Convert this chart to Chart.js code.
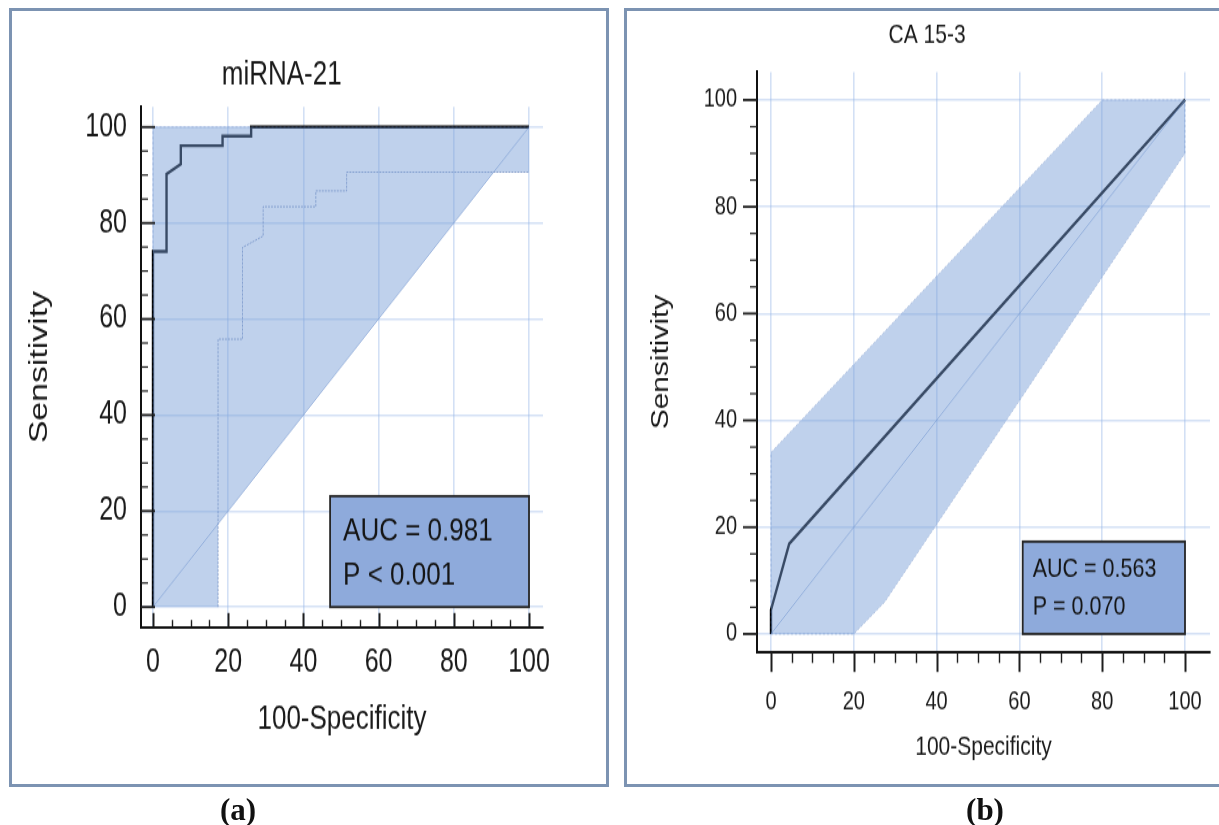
<!DOCTYPE html>
<html><head><meta charset="utf-8">
<script src="https://cdn.jsdelivr.net/npm/chart.js@4.4.1/dist/chart.umd.min.js"></script>
<style>
html,body{margin:0;padding:0;background:#fff;width:1219px;height:825px;overflow:hidden}
#wrap{position:relative;width:1219px;height:825px}
canvas{position:absolute;left:0;top:0}
.frame{position:absolute;border:3px solid #7c93b2;box-sizing:border-box}
.lab{position:absolute;top:792px;line-height:34px;font:bold 31px "Liberation Serif","Times New Roman",serif;color:#111;transform:translateX(-50%)}
</style></head><body>
<div id="wrap">
<div class="frame" style="left:9px;top:8px;width:600px;height:779px"></div>
<div class="frame" style="left:624px;top:8px;width:610px;height:779px"></div>
<canvas id="c1" width="1219" height="635" style="width:1219px;height:825px"></canvas>
<canvas id="c2" width="1219" height="635" style="width:1219px;height:825px"></canvas>
<div class="lab" style="left:238px">(a)</div>
<div class="lab" style="left:985px">(b)</div>
</div>
<script>
// ---------- data ----------
const xTickVals = [0, 20, 40, 60, 80, 100];
const yTickVals = [0, 20, 40, 60, 80, 100];

// miRNA-21 ROC curve
const mirFpr  = [0, 0, 3.6, 3.6, 7.4, 7.4, 18.5, 18.5, 26.1, 26.1, 100];
const mirSens = [0, 74.1, 74.1, 90.2, 92.3, 96.1, 96.1, 98.1, 98.1, 100, 100];
// miRNA-21 lower confidence curve
const mirLowFpr  = [17.3, 17.3, 23.8, 23.8, 29.3, 29.3, 43.3, 43.3, 51.5, 51.5, 100];
const mirLowSens = [0, 55.8, 55.8, 74.9, 77.3, 83.4, 83.4, 86.7, 86.7, 90.6, 90.6];
// miRNA-21 shaded band boundaries
const mirBandUpFpr  = [0, 0, 100];
const mirBandUpSens = [0, 100, 100];
const mirBandLoFpr  = [0, 17.3, 17.3, 90.6, 100, 100];
const mirBandLoSens = [0, 0, 17.3, 90.6, 90.6, 100];
const mirAUC = ['AUC = 0.981', 'P < 0.001'];

// CA 15-3 ROC curve
const caFpr  = [0, 0, 4.4, 100];
const caSens = [0, 4.5, 16.9, 100];
// CA 15-3 shaded band boundaries
const caBandUpFpr  = [0, 0, 80, 100];
const caBandUpSens = [0, 34, 100, 100];
const caBandLoFpr  = [0, 20, 27.5, 100, 100];
const caBandLoSens = [0, 0, 6, 90, 100];
const caAUC = ['AUC = 0.563', 'P = 0.070'];

// chance diagonal
const diagFpr = [0, 100];
const diagSens = [0, 100];

// ---------- helpers ----------
const SANS = '"Liberation Sans",Arial,sans-serif';
const BAND = 'rgba(118,158,214,0.47)';
const GRID = 'rgba(150,182,232,0.42)';
const pts = (xs, ys) => xs.map((v, i) => ({x: v, y: ys[i]}));
const polygon = (ux, uy, lx, ly) => pts(ux.concat(lx.slice().reverse()), uy.concat(ly.slice().reverse()));

const decor = {
  id: 'decor',
  afterDatasetsDraw(chart, args, o) {
    const {ctx, chartArea: ca, scales: {x, y}} = chart;
    ctx.save();
    ctx.strokeStyle = '#1e1e1e';
    for (let v = 0; v <= 100; v += 5) {
      const xm = xTickVals.includes(v), ym = yTickVals.includes(v);
      const xl = xm ? o.xMajorLen : o.xMinorLen;
      const yl = ym ? o.yMajorLen : o.yMinorLen;
      const px = Math.round(x.getPixelForValue(v)) + 0.5;
      ctx.lineWidth = xm ? 2 : 1.4;
      ctx.beginPath();
      ctx.moveTo(px, ca.bottom);
      ctx.lineTo(px, o.inward ? ca.bottom - xl : ca.bottom + xl);
      ctx.stroke();
      const py = y.getPixelForValue(v);
      ctx.lineWidth = ym ? 1.8 : 1.2;
      ctx.beginPath();
      ctx.moveTo(ca.left, py);
      ctx.lineTo(o.inward ? ca.left + yl : ca.left - yl, py);
      ctx.stroke();
    }
    // AUC box
    const bx0 = x.getPixelForValue(o.box[0]), bx1 = x.getPixelForValue(o.box[1]);
    const by0 = y.getPixelForValue(o.box[2]), by1 = y.getPixelForValue(o.box[3]);
    ctx.fillStyle = '#8eaadb';
    ctx.fillRect(bx0, by1, bx1 - bx0, by0 - by1);
    ctx.strokeStyle = '#262626';
    ctx.lineWidth = 1.8;
    ctx.strokeRect(bx0, by1, bx1 - bx0, by0 - by1);
    ctx.fillStyle = '#151515';
    ctx.font = o.font;
    ctx.textBaseline = 'middle';
    ctx.textAlign = 'left';
    o.lines.forEach((t, i) => {
      ctx.save();
      ctx.translate(bx0 + o.textX, by1 + o.textY[i]);
      ctx.scale(1, 0.9);
      ctx.fillText(t, 0, 0);
      ctx.restore();
    });
    ctx.restore();
  }
};

function zeroPad(s) { s.paddingLeft = 0; s.paddingRight = 0; s.paddingTop = 0; s.paddingBottom = 0; }

function makeChart(id, c) {
  const datasets = [
    {data: polygon(c.upX, c.upY, c.loX, c.loY), showLine: true, fill: 'shape', backgroundColor: BAND, borderWidth: 0, pointRadius: 0},
    {data: pts(diagFpr, diagSens), showLine: true, fill: false, borderColor: 'rgba(105,140,200,0.55)', borderWidth: 1, pointRadius: 0},
    {data: pts(c.upX, c.upY), showLine: true, fill: false, borderColor: 'rgba(80,110,170,0.3)', borderWidth: 1, borderDash: [2, 2], pointRadius: 0},
  ];
  if (c.lowX) datasets.push({data: pts(c.lowX, c.lowY), showLine: true, fill: false, borderColor: 'rgba(70,100,165,0.6)', borderWidth: 1, borderDash: [2, 1], pointRadius: 0});
  else datasets.push({data: pts(c.loX, c.loY), showLine: true, fill: false, borderColor: 'rgba(80,110,170,0.3)', borderWidth: 1, borderDash: [2, 2], pointRadius: 0});
  datasets.push({data: pts(c.rocX, c.rocY), showLine: true, fill: false, borderColor: '#000', borderWidth: 2.4, pointRadius: 0});

  return new Chart(document.getElementById(id), {
    type: 'scatter',
    data: {datasets},
    plugins: [decor],
    options: {
      responsive: false, animation: false, events: [],
      layout: {padding: c.pad},
      plugins: {
        legend: {display: false}, tooltip: {enabled: false},
        title: {display: true, text: c.title, color: '#1a1a1a', font: {family: SANS, size: c.titleSize, weight: 'normal'}, padding: c.titlePad},
        decor: c.decor
      },
      scales: {
        x: {
          type: 'linear', min: c.xr[0], max: c.xr[1],
          afterBuildTicks: s => { s.ticks = xTickVals.map(v => ({value: v})); },
          afterFit: s => { s.height = c.xH; zeroPad(s); },
          grid: {color: GRID, lineWidth: 1.6, drawTicks: false},
          border: {display: true, color: '#111', width: 2},
          ticks: {font: {family: SANS, size: c.tickSize}, color: '#1a1a1a', padding: c.xTickPad, maxRotation: 0, autoSkip: false},
          title: {display: true, text: '100-Specificity', color: '#1a1a1a', font: {family: SANS, size: c.xTitleSize}, padding: {top: 4, bottom: 4}}
        },
        y: {
          type: 'linear', min: c.yr[0], max: c.yr[1],
          afterBuildTicks: s => { s.ticks = yTickVals.map(v => ({value: v})); },
          afterFit: s => { s.width = c.yW; zeroPad(s); },
          grid: {color: GRID, lineWidth: 1.6, drawTicks: false},
          border: {display: true, color: '#111', width: 2},
          ticks: {font: {family: SANS, size: c.tickSize}, color: '#1a1a1a', padding: c.yTickPad, autoSkip: false},
          title: {display: true, text: 'Sensitivity', color: '#1a1a1a', font: {family: SANS, size: c.yTitleSize}, padding: {top: 4, bottom: 4}}
        }
      }
    }
  });
}

makeChart('c1', {
  title: 'miRNA-21', titleSize: 26, titlePad: {top: 12.1, bottom: 9.06},
  pad: {left: 20.4, right: 676, top: 30, bottom: 61.2},
  xr: [-3.19, 103.72], yr: [-4.17, 104.17], xH: 91.2, yW: 120.6,
  tickSize: 25, xTickPad: 12.7, yTickPad: 14, xTitleSize: 26, yTitleSize: 26,
  upX: mirBandUpFpr, upY: mirBandUpSens, loX: mirBandLoFpr, loY: mirBandLoSens,
  lowX: mirLowFpr, lowY: mirLowSens, rocX: mirFpr, rocY: mirSens,
  decor: {inward: true, xMajorLen: 10.8, xMinorLen: 5.4, yMajorLen: 14, yMinorLen: 7, box: [47.1, 100, 0, 23.1],
          lines: mirAUC, font: '26px ' + SANS, textX: 13, textY: [28.1, 61.4]}
});

makeChart('c2', {
  title: 'CA 15-3', titleSize: 21, titlePad: {top: 6.3, bottom: 15.9},
  pad: {left: 644.2, right: 9, top: 8, bottom: 42.7},
  xr: [-3.38, 106.04], yr: [-3.37, 105.24], xH: 90.5, yW: 112.8,
  tickSize: 20, xTickPad: 26.3, yTickPad: 20, xTitleSize: 21, yTitleSize: 23,
  upX: caBandUpFpr, upY: caBandUpSens, loX: caBandLoFpr, loY: caBandLoSens,
  rocX: caFpr, rocY: caSens,
  decor: {inward: false, xMajorLen: 15.4, xMinorLen: 8.5, yMajorLen: 14, yMinorLen: 7, box: [60.8, 100, 0, 17.3],
          lines: caAUC, font: '21.5px ' + SANS, textX: 10, textY: [22.3, 51.0]}
});
</script>
</body></html>
